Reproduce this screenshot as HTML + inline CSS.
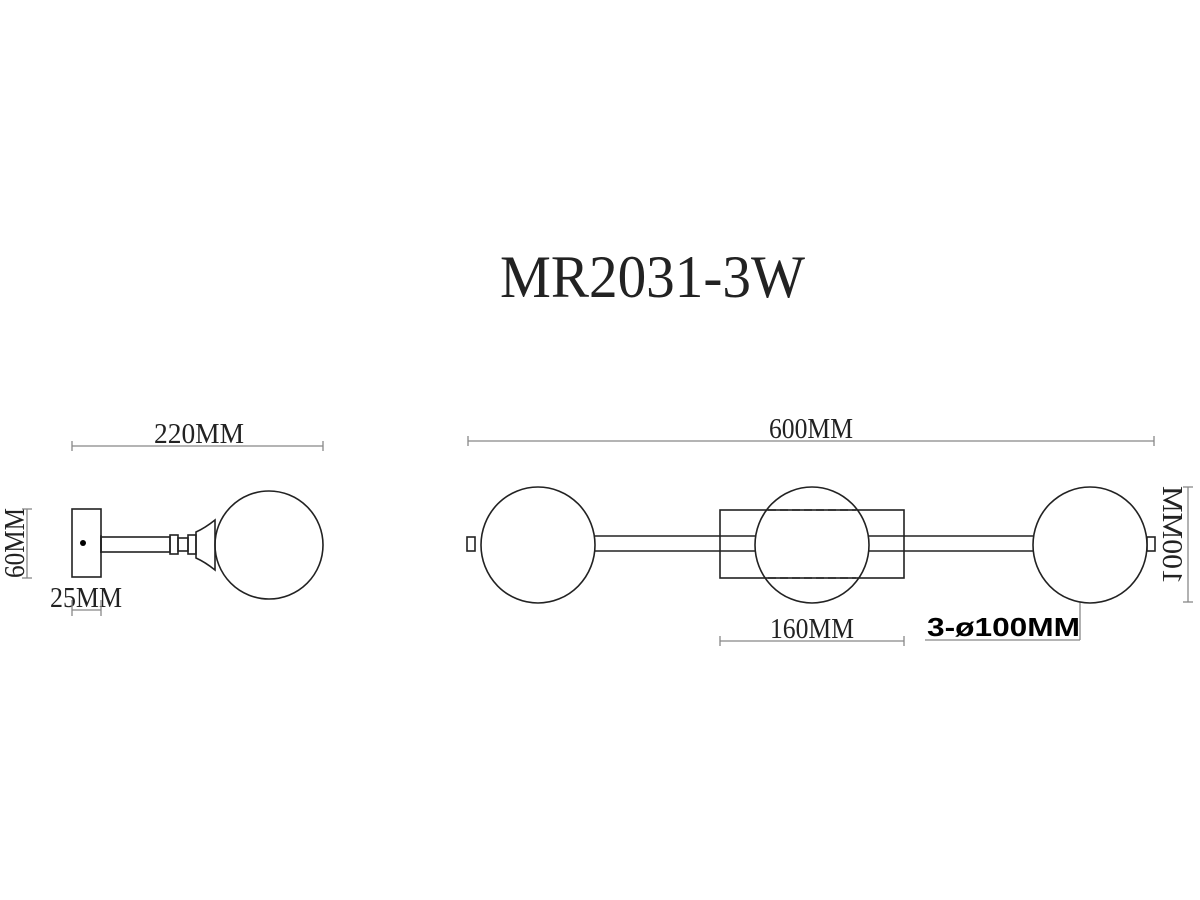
<!DOCTYPE html>
<html><head><meta charset="utf-8"><style>html,body{margin:0;padding:0;background:#fff;}svg{display:block}</style></head>
<body>
<svg width="1200" height="900" viewBox="0 0 1200 900" xmlns="http://www.w3.org/2000/svg">
<rect width="1200" height="900" fill="#fff"/>
<g font-family="Liberation Serif, serif" fill="#222">
<text x="500" y="297" font-size="60" textLength="305" lengthAdjust="spacingAndGlyphs">MR2031-3W</text>
<text x="154" y="443" font-size="28" textLength="90" lengthAdjust="spacingAndGlyphs">220MM</text>
<text x="769" y="438" font-size="28" textLength="84" lengthAdjust="spacingAndGlyphs">600MM</text>
<text x="770" y="638" font-size="28" textLength="84" lengthAdjust="spacingAndGlyphs">160MM</text>
<text x="50" y="607" font-size="28" textLength="72" lengthAdjust="spacingAndGlyphs">25MM</text>
<text transform="translate(24,578) rotate(-90)" font-size="28" textLength="70" lengthAdjust="spacingAndGlyphs">60MM</text>
<text transform="translate(1163,584) rotate(-90) scale(1,-1)" font-size="28" textLength="98" lengthAdjust="spacingAndGlyphs">100MM</text>
</g>
<text x="927" y="636" font-family="Liberation Sans, sans-serif" font-weight="bold" font-size="26" fill="#000" textLength="153" lengthAdjust="spacingAndGlyphs">3-ø100MM</text>
<g stroke="#888" stroke-width="1.3" fill="none">
<line x1="72" y1="446" x2="323" y2="446"/><line x1="72" y1="441" x2="72" y2="451"/><line x1="323" y1="441" x2="323" y2="451"/>
<line x1="468" y1="441" x2="1154" y2="441"/><line x1="468" y1="436" x2="468" y2="446"/><line x1="1154" y1="436" x2="1154" y2="446"/>
<line x1="720" y1="641" x2="904" y2="641"/><line x1="720" y1="636" x2="720" y2="646"/><line x1="904" y1="636" x2="904" y2="646"/>
<line x1="27" y1="509" x2="27" y2="578"/><line x1="22" y1="509" x2="32" y2="509"/><line x1="22" y1="578" x2="32" y2="578"/>
<line x1="1188" y1="487" x2="1188" y2="602"/><line x1="1183" y1="487" x2="1193" y2="487"/><line x1="1183" y1="602" x2="1193" y2="602"/>
<line x1="72" y1="600" x2="72" y2="616"/><line x1="101" y1="600" x2="101" y2="616"/><line x1="72" y1="610" x2="101" y2="610"/>
<line x1="925" y1="640" x2="1080" y2="640"/><line x1="1080" y1="600" x2="1080" y2="640"/>
</g>
<g stroke="#222" stroke-width="1.6" fill="none">
<rect x="72" y="509" width="29" height="68"/>
<line x1="101" y1="535" x2="101" y2="553"/>
<rect x="101" y="537" width="69" height="15"/>
<rect x="170" y="535" width="8" height="19"/><rect x="178" y="538" width="10" height="13"/><rect x="188" y="535" width="8" height="19"/>
<path d="M196 532 Q205 528 215 520 L215 570 Q205 562 196 558 Z"/>
<circle cx="269" cy="545" r="54"/>
<rect x="467" y="537" width="8" height="14"/>
<rect x="1147" y="537" width="8" height="14"/>
<line x1="595" y1="536" x2="1033" y2="536"/><line x1="595" y1="551" x2="1033" y2="551"/>
<rect x="720" y="510" width="184" height="68" fill="#fff"/>
<ellipse cx="538" cy="545" rx="57" ry="58" fill="#fff"/>
<ellipse cx="812" cy="545" rx="57" ry="58" fill="none"/>
<ellipse cx="1090" cy="545" rx="57" ry="58" fill="#fff"/>
<line x1="720" y1="536" x2="755" y2="536"/><line x1="720" y1="551" x2="755" y2="551"/>
<line x1="869" y1="536" x2="904" y2="536"/><line x1="869" y1="551" x2="904" y2="551"/>
<line x1="768" y1="510" x2="856" y2="510" stroke-dasharray="8 4"/>
<line x1="768" y1="578" x2="856" y2="578" stroke-dasharray="8 4"/>
</g>
<circle cx="83" cy="543" r="3" fill="#000"/>
</svg>
</body></html>
